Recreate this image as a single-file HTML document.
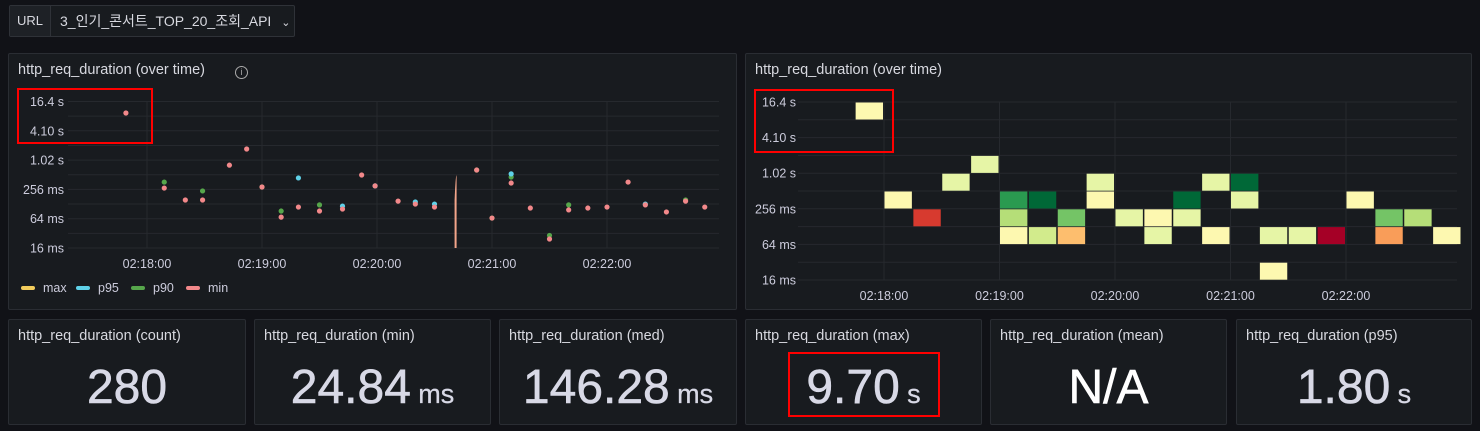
<!DOCTYPE html>
<html><head><meta charset="utf-8">
<style>
*{box-sizing:border-box;margin:0;padding:0}
body{width:1480px;height:431px;background:#111217;font-family:"Liberation Sans","Noto Sans CJK KR",sans-serif;color:#ccccdc;position:relative;overflow:hidden}
.panel{position:absolute;background:#181b1f;border:1px solid #2a2d33;border-radius:2px}
.ttl{position:absolute;left:9px;top:8px;font-size:14.5px;color:#d8d9e0;white-space:nowrap}
.stat{position:absolute;left:0;right:0;top:40px;text-align:center;font-size:48px;color:#d8d9e6;white-space:nowrap;-webkit-text-stroke:0.6px #d8d9e6}
.stat small{font-size:27px;margin-left:-6px;-webkit-text-stroke:0.3px #d8d9e6}
.redbox{position:absolute;border:2px solid #f00}
svg text{font-family:"Liberation Sans",sans-serif}
</style></head><body>
<div style="position:absolute;left:9px;top:5px;width:286px;height:32px;border:1px solid #2f3238;background:#181b1f;border-radius:2px">
 <div style="position:absolute;left:0;top:0;width:41px;height:30px;border-right:1px solid #2f3238;background:#1e2126;font-size:13px;color:#d8d9e0;line-height:30px;text-align:center">URL</div>
 <div style="position:absolute;left:50px;top:0;height:30px;line-height:30px;font-size:14px;color:#d8d9e0;white-space:nowrap">3_인기_콘서트_TOP_20_조회_API <span style="margin-left:6px;font-size:11px">⌄</span></div>
</div>

<div class="panel" style="left:8px;top:53px;width:729px;height:257px">
 <div class="ttl">http_req_duration (over time) <span style="display:inline-block;width:13px;height:13px;border:1.3px solid #aaa;border-radius:50%;font-size:9px;text-align:center;line-height:11px;margin-left:26px;vertical-align:-1px;color:#aaa">i</span></div>
</div>
<svg id="ts" style="position:absolute;left:0;top:0" width="740" height="310"></svg>

<div class="panel" style="left:745px;top:53px;width:727px;height:257px">
 <div class="ttl">http_req_duration (over time)</div>
</div>
<svg id="hm" style="position:absolute;left:740px;top:0" width="740" height="310"></svg>

<div class="redbox" style="left:17px;top:88px;width:136px;height:56px"></div>
<div class="redbox" style="left:754px;top:89px;width:140px;height:64px"></div>

<div class="panel" style="left:8px;top:319px;width:238px;height:106px"><div class="ttl">http_req_duration (count)</div><div class="stat">280</div></div>
<div class="panel" style="left:254px;top:319px;width:237px;height:106px"><div class="ttl">http_req_duration (min)</div><div class="stat">24.84 <small>ms</small></div></div>
<div class="panel" style="left:499px;top:319px;width:238px;height:106px"><div class="ttl">http_req_duration (med)</div><div class="stat">146.28 <small>ms</small></div></div>
<div class="panel" style="left:745px;top:319px;width:237px;height:106px"><div class="ttl">http_req_duration (max)</div><div class="stat">9.70 <small>s</small></div></div>
<div class="panel" style="left:990px;top:319px;width:237px;height:106px"><div class="ttl">http_req_duration (mean)</div><div class="stat" style="color:#fff;-webkit-text-stroke:0.6px #fff">N/A</div></div>
<div class="panel" style="left:1236px;top:319px;width:236px;height:106px"><div class="ttl">http_req_duration (p95)</div><div class="stat">1.80 <small>s</small></div></div>
<div class="redbox" style="left:788px;top:352px;width:152px;height:65px"></div>

<script>
const NS="http://www.w3.org/2000/svg";
const yTickLabels=["16 ms","64 ms","256 ms","1.02 s","4.10 s","16.4 s"];
const xTickLabels=["02:18:00","02:19:00","02:20:00","02:21:00","02:22:00"];
// time seconds after 02:17:00, values in ms
const minT=[49,69,80,89,103,112,120,130,139,150,162,172,179,191,200,210,232,240,250,260,270,280,290,300,311,320,331,341,351];
const minV=[9500,273,155,155,806,1730,287,69,111,92,101,506,302,147,128,111,640,66,346,106,24.5,97,106,111,362,123,88,147,111];
const p90T=[69,89,120,130,150,232,240,250,270,280,341];
const p90V=[362,238,287,92,123,640,66,460,29,123,155];
const p95T=[139,162,179,200,210,250,320];
const p95V=[440,116,302,141,128,533,128];
const spikeT=221, spikeV=500;
// heatmap: 15s buckets starting 02:17:45, rows are factor-2 buckets from 16ms
const hmCol=[0,1,2,3,4,5,5,5,6,6,7,7,8,8,9,10,10,11,11,12,12,13,13,14,14,15,16,17,18,18,19,20];
const hmRow=[9,4,3,5,6,4,3,2,4,2,3,2,5,4,3,3,2,4,3,5,2,5,4,2,0,2,2,4,3,2,3,2];
const hmCount=[5,5,2,6,6,10,8,5,12,7,9,4,6,5,6,5,6,12,6,6,5,12,6,6,5,6,1,5,9,3,8,5];
const palette={1:"#a50026",2:"#d73a2f",3:"#f99d59",4:"#fdbe6e",5:"#fdf8b0",6:"#e6f5a6",7:"#d2eb8c",8:"#b5de78",9:"#74c466",10:"#2a9a50",11:"#4bb05c",12:"#006837"};

function el(svg,tag,attrs,name,txt){const e=document.createElementNS(NS,tag);for(const k in attrs)e.setAttribute(k,attrs[k]);


if(txt!==undefined)e.textContent=txt;svg.appendChild(e);return e;}

// ---- time series
const ts=document.getElementById('ts');
const tsX=t=>147+(t-60)/60*115;
const tsY=v=>248-29.3*Math.log(v/16)/Math.log(4);
for(let i=0;i<=10;i++){const y=248-i*14.65;el(ts,'line',{x1:68,x2:719,y1:y,y2:y,stroke:'#26292e','stroke-width':1},'grid-y');}
for(let i=0;i<5;i++){const x=tsX(60+i*60);el(ts,'line',{x1:x,x2:x,y1:101,y2:248,stroke:'#26292e','stroke-width':1},'grid-x');
el(ts,'text',{x:x,y:268,'font-size':12.5,fill:'#ccccdc','text-anchor':'middle'},'x-tick-label',xTickLabels[i]);}
yTickLabels.forEach((l,i)=>el(ts,'text',{x:64,y:248-i*29.3+4.5,'font-size':12.5,fill:'#ccccdc','text-anchor':'end'},'y-tick-label',l));
const sx=tsX(spikeT), sy=tsY(spikeV);
el(ts,'path',{d:`M${sx-1},248 L${sx-1},${sy+25} Q${sx},${sy} ${sx+1},${sy} L${sx+1},248 Z`,fill:'#f2a58a'},'spike-line');
function pts(T,V,c,n){T.forEach((t,i)=>el(ts,'circle',{cx:tsX(t),cy:tsY(V[i]),r:2.6,fill:c},n));}
pts(p90T,p90V,'#56a64b','point-p90');
pts(p95T,p95V,'#5fd1e8','point-p95');
pts(minT,minV,'#f2888a','point-min');
const leg=[["max","#f2cc5c"],["p95","#5fd1e8"],["p90","#56a64b"],["min","#f2888a"]];
let lx=21;const lw=[55,55,55,40];
leg.forEach((l,i)=>{el(ts,'rect',{x:lx,y:286,width:14,height:4,rx:2,fill:l[1]},'legend-swatch-'+l[0]);
el(ts,'text',{x:lx+22,y:292,'font-size':12.5,fill:'#ccccdc'},'legend-entry-'+l[0],l[0]);lx+=lw[i];});

// ---- heatmap (svg offset 740)
const hm=document.getElementById('hm');
const hX=s=>144+(s-60)/60*115.5;
const hY=r=>280-r*17.8;
for(let i=0;i<=10;i++){const y=280-i*17.8;el(hm,'line',{x1:58,x2:717,y1:y,y2:y,stroke:'#26292e'},'grid-y');}
for(let i=0;i<5;i++){const x=hX(60+i*60);el(hm,'line',{x1:x,x2:x,y1:102,y2:280,stroke:'#26292e'},'grid-x');
el(hm,'text',{x:x,y:300,'font-size':12.5,fill:'#ccccdc','text-anchor':'middle'},'x-tick-label',xTickLabels[i]);}
yTickLabels.forEach((l,i)=>el(hm,'text',{x:56,y:280-i*35.6+4.5,'font-size':12.5,fill:'#ccccdc','text-anchor':'end'},'y-tick-label',l));
hmCol.forEach((c,i)=>{const x0=hX(45+c*15),x1=hX(60+c*15);const r=hmRow[i];
el(hm,'rect',{x:x0+0.5,y:hY(r+1)+0.5,width:x1-x0-1.5,height:17,fill:palette[hmCount[i]]},'heatmap-cell');});
</script>
</body></html>
